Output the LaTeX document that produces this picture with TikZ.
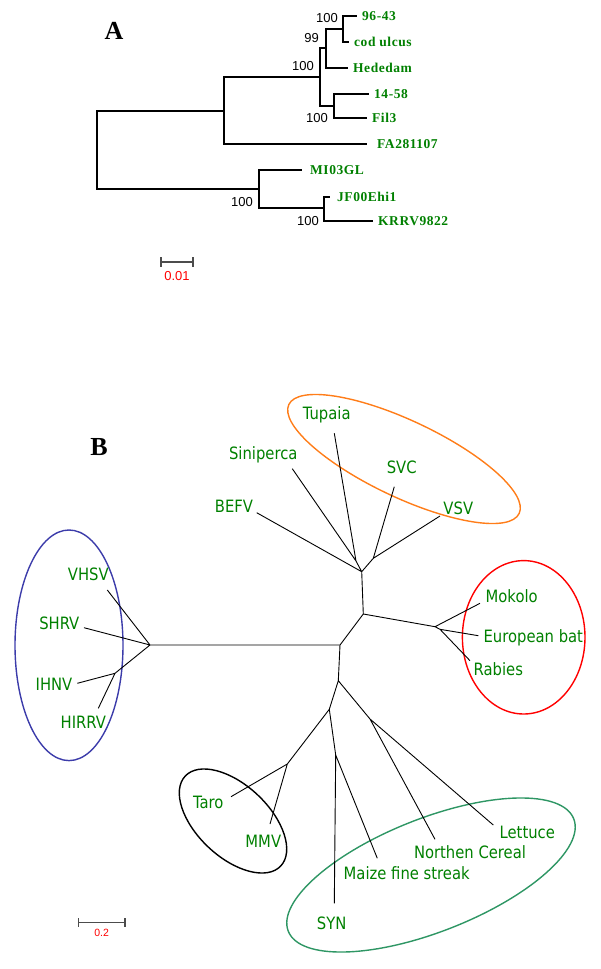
\documentclass[tikz,border=0pt]{standalone}
\usepackage{fontspec}
\usetikzlibrary{arrows.meta}
\newfontfamily\strainfont[LetterSpace=4]{Liberation Serif}
\newfontfamily\virusfont[FakeStretch=0.87]{DejaVu Sans}
\newfontfamily\numfont{Liberation Sans}
\newfontfamily\panelfont{Liberation Serif}
\definecolor{leafgreen}{RGB}{0,128,0}
\definecolor{ringorange}{RGB}{255,125,25}
\definecolor{ringblue}{RGB}{60,60,170}
\definecolor{ringteal}{RGB}{46,150,100}
\begin{document}
\begin{tikzpicture}[x=1pt,y=-1pt,
  branchA/.style={line width=1.3pt},
  branchB/.style={line width=0.9pt},
  strain/.style={anchor=west,inner xsep=5pt,inner ysep=0pt,text height=9.5pt,text depth=0pt,
    text=leafgreen,font=\strainfont\bfseries\fontsize{13.5}{14}\selectfont},
  boot/.style={anchor=east,inner sep=0pt,font=\numfont\fontsize{13}{14}\selectfont},
  virus/.style={inner sep=0pt,text height=12.4pt,text depth=0pt,text=leafgreen,
    font=\virusfont\fontsize{17}{18}\selectfont},
  panel/.style={inner sep=0pt,font=\panelfont\bfseries\fontsize{26}{28}\selectfont},
  ring/.style={line width=1.4pt},
  scalebar/.style={line width=1.3pt,black!70}]
\useasboundingbox (0,0) rectangle (600,969);

% panel A
\node[panel] (pa) at (114,31) {A};
\coordinate (r) at (97,150);
\coordinate (u) at (224,111);
\coordinate (c1) at (320,77);
\coordinate (c2) at (326,48);
\coordinate (c4) at (343,29);
\coordinate (c3) at (334,106);
\coordinate (l) at (259,189);
\coordinate (c5) at (324,208);
\node[strain] (s9643) at (357,16) {96-43};
\node[strain] (scod) at (349,42) {cod ulcus};
\node[strain] (shed) at (348,68) {Hededam};
\node[strain] (s1458) at (369,94) {14-58};
\node[strain] (sfil) at (367,118) {Fil3};
\node[strain,inner xsep=10pt] (sfa) at (367,144) {FA281107};
\node[strain,inner xsep=8pt] (smi) at (302,170) {MI03GL};
\node[strain,inner xsep=7pt] (sjf) at (330,197) {JF00Ehi1};
\node[strain] (skr) at (373,221) {KRRV9822};
\draw[branchA] (r) |- (u) (r) |- (l)
  (u) |- (c1) (u) |- (sfa.west)
  (c1) |- (c2) (c1) |- (c3)
  (c2) |- (c4) (c2) |- (shed.west)
  (c4) |- (s9643.west) (c4) |- (scod.west)
  (c3) |- (s1458.west) (c3) |- (sfil.west)
  (l) |- (smi.west) (l) |- (c5)
  (c5) |- (sjf.west) (c5) |- (skr.west);
\node[boot] (b1) at (338,18) {100};
\node[boot] (b2) at (319,38) {99};
\node[boot] (b3) at (314,66) {100};
\node[boot] (b4) at (328,118) {100};
\node[boot] (b5) at (253,202) {100};
\node[boot] (b6) at (319,221) {100};
\coordinate (sa1) at (161,262);
\coordinate (sa2) at (193,262);
\draw[scalebar] (sa1) -- (sa2) (sa1) ++(0,-5) -- ++(0,10) (sa2) ++(0,-5) -- ++(0,10);
\node[inner sep=0pt,text=red,font=\numfont\fontsize{13}{14}\selectfont] (la) at (177,276) {0.01};

% panel B
\node[panel] (pb) at (99,447) {B};
\draw[ring,ringorange,rotate around={-25.3:(404,459)}] (404,459) ellipse [x radius=127.4pt,y radius=38.3pt];
\draw[ring,red] (523.7,637.3) ellipse [x radius=61.3pt,y radius=76.7pt];
\draw[ring,ringblue] (69,645.3) ellipse [x radius=54pt,y radius=115.3pt];
\draw[ring,black,rotate around={-43.3:(233,821)}] (233,821) ellipse [x radius=65.6pt,y radius=35.9pt];
\draw[ring,ringteal,rotate around={21.5:(431,875)}] (431,875) ellipse [x radius=153.4pt,y radius=56.6pt];

\coordinate (n1) at (361.7,571.7);
\coordinate (n2) at (373.3,558.3);
\coordinate (n3) at (356,561);
\coordinate (n4) at (363.3,614);
\coordinate (n5) at (435,626.7);
\coordinate (n5b) at (440,629.3);
\coordinate (n6) at (340,645);
\coordinate (n7) at (338.3,680.7);
\coordinate (n8) at (370,719);
\coordinate (n9) at (329.3,709.3);
\coordinate (n10) at (287.3,764);
\coordinate (n11) at (335.7,755);
\coordinate (l1) at (150,645);
\coordinate (l2) at (115,673.3);

\coordinate (eTupaia) at (334.3,433.3);
\coordinate (eSiniperca) at (292.3,468.7);
\coordinate (eBEFV) at (256.7,512.7);
\coordinate (eSVC) at (394.3,486.7);
\coordinate (eVSV) at (440,516);
\coordinate (eMokolo) at (480,603.3);
\coordinate (eEuro) at (478.3,635.7);
\coordinate (eRabies) at (470,660.7);
\coordinate (eVHSV) at (107.3,590);
\coordinate (eSHRV) at (84,627.7);
\coordinate (eIHNV) at (77.3,683.3);
\coordinate (eHIRRV) at (98.3,708.3);
\coordinate (eTaro) at (231,796.7);
\coordinate (eMMV) at (270,824);
\coordinate (eSYN) at (334.3,903.3);
\coordinate (eMaize) at (377.3,858.3);
\coordinate (eNorthen) at (435,839.3);
\coordinate (eLettuce) at (493.3,825);

\draw[branchB] (n3) -- (eTupaia) (n3) -- (eSiniperca) (n1) -- (n3)
  (n1) -- (eBEFV) (n1) -- (n2) (n2) -- (eSVC) (n2) -- (eVSV)
  (n1) -- (n4) (n4) -- (n5) (n5) -- (eMokolo) (n5) -- (n5b)
  (n5b) -- (eEuro) (n5b) -- (eRabies)
  (n4) -- (n6) (n6) -- (l1) (l1) -- (eVHSV) (l1) -- (eSHRV)
  (l1) -- (l2) (l2) -- (eIHNV) (l2) -- (eHIRRV)
  (n6) -- (n7) (n7) -- (n8) (n8) -- (eLettuce) (n8) -- (eNorthen)
  (n7) -- (n9) (n9) -- (n10) (n10) -- (eTaro) (n10) -- (eMMV)
  (n9) -- (n11) (n11) -- (eSYN) (n11) -- (eMaize);

\node[virus] (tTupaia) at (326.7,413.3) {Tupaia};
\node[virus] (tSiniperca) at (263.3,453.3) {Siniperca};
\node[virus] (tSVC) at (401.7,467.3) {SVC};
\node[virus] (tBEFV) at (234,506) {BEFV};
\node[virus] (tVSV) at (458.3,508.3) {VSV};
\node[virus] (tMokolo) at (511.7,596.7) {Mokolo};
\node[virus] (tEuro) at (533.3,636) {European bat};
\node[virus] (tRabies) at (498.3,669.3) {Rabies};
\node[virus] (tVHSV) at (88.3,574.3) {VHSV};
\node[virus] (tSHRV) at (59.3,623.3) {SHRV};
\node[virus] (tIHNV) at (54,684) {IHNV};
\node[virus] (tHIRRV) at (83.3,722.7) {HIRRV};
\node[virus] (tTaro) at (208.3,802.7) {Taro};
\node[virus] (tMMV) at (263.3,841) {MMV};
\node[virus] (tSYN) at (331.7,923.3) {SYN};
\node[virus] (tMaize) at (406.7,873.3) {Maize fine streak};
\node[virus] (tNorthen) at (470,852.7) {Northen Cereal};
\node[virus] (tLettuce) at (527.3,832.7) {Lettuce};

\coordinate (sb1) at (78.3,922.7);
\coordinate (sb2) at (125,922.7);
\draw[scalebar] (sb1) -- (sb2) (sb1) ++(0,-4.5) -- ++(0,9) (sb2) ++(0,-4.5) -- ++(0,9);
\node[inner sep=0pt,text=red,font=\numfont\fontsize{10.5}{12}\selectfont] (lb) at (101.7,933.3) {0.2};
\end{tikzpicture}
\end{document}
